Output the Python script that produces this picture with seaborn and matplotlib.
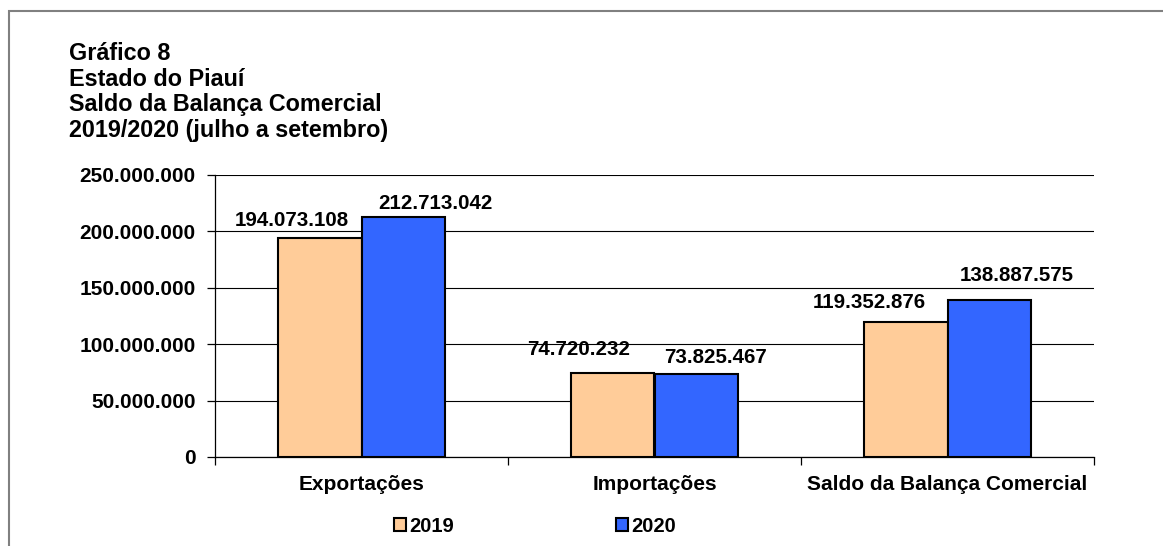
import pandas as pd
import numpy as np
import seaborn as sns
import matplotlib.pyplot as plt
from matplotlib.patches import Rectangle
from matplotlib.ticker import FuncFormatter, FixedLocator

# ------------------------------
# Data
# ------------------------------
categorias = ["Exportações", "Importações", "Saldo da Balança Comercial"]
anos = ["2019", "2020"]
valores_2019 = [194073108, 74720232, 119352876]
valores_2020 = [212713042, 73825467, 138887575]
titulo = ["Gráfico 8", "Estado do Piauí", "Saldo da Balança Comercial",
          "2019/2020 (julho a setembro)"]

cores = {"2019": "#FFCC99", "2020": "#3366FF"}

df = pd.DataFrame({
    "categoria": categorias * 2,
    "ano": [anos[0]] * 3 + [anos[1]] * 3,
    "valor": valores_2019 + valores_2020,
})


def fmt_br(v, pos=None):
    return f"{int(v):,}".replace(",", ".")


sns.set_style("white")
plt.rcParams["font.family"] = ["Liberation Sans", "DejaVu Sans"]
plt.rcParams["font.weight"] = "bold"
for k in ["text.color", "axes.labelcolor", "xtick.color", "ytick.color"]:
    plt.rcParams[k] = "black"

fig = plt.figure(figsize=(11.63, 5.46), dpi=100)
ax = fig.add_axes([215 / 1163, 1 - 457 / 546, (1094 - 215) / 1163, (457 - 175) / 546])

sns.barplot(data=df, x="categoria", y="valor", hue="ano", order=categorias,
            hue_order=anos, palette=cores, width=0.573, gap=0,
            edgecolor="black", linewidth=1.5, saturation=1, legend=False, ax=ax)

# axes styling
ax.set_ylim(0, 250000000)
ax.set_xlim(-0.5, 2.5)
ax.set_yticks(np.arange(0, 250000001, 50000000))
ax.yaxis.set_major_formatter(FuncFormatter(fmt_br))
ax.yaxis.grid(True, color="black", linewidth=0.8)
ax.set_axisbelow(True)
ax.set_xlabel("")
ax.set_ylabel("")
for s in ["top", "right"]:
    ax.spines[s].set_visible(False)
for s in ["left", "bottom"]:
    ax.spines[s].set_color("black")
    ax.spines[s].set_linewidth(0.9)
ax.tick_params(axis="y", left=True, length=6, width=0.9, color="black",
               labelsize=15, pad=8, labelcolor="black")
ax.tick_params(axis="x", which="major", length=0, labelsize=15, pad=13,
               labelcolor="black")
ax.xaxis.set_minor_locator(FixedLocator([-0.5, 0.5, 1.5, 2.5]))
ax.tick_params(axis="x", which="minor", bottom=True, length=6, width=0.9, color="black")
for lbl in ax.get_xticklabels() + ax.get_yticklabels():
    lbl.set_fontweight("bold")

# data labels (pixel offsets relative to bar top centre)
offsets = [[(-28, 12), (-34, 18), (-36, 14)],
           [(32, 8), (19, 11), (27, 19)]]
for cont, offs in zip(ax.containers, offsets):
    for bar, (dx, dy) in zip(cont, offs):
        x = bar.get_x() + bar.get_width() / 2
        y = bar.get_height()
        ax.annotate(fmt_br(y), (x, y), xytext=(dx, dy), textcoords="offset pixels",
                    ha="center", va="baseline", fontsize=14.8, fontweight="bold",
                    color="black")

# title
fig.text(69 / 1163, 1 - 42 / 546, "\n".join(titulo), ha="left", va="top",
         fontsize=16.8, fontweight="bold", linespacing=1.15, color="black")

# legend
handles = [Rectangle((0, 0), 1, 1, facecolor=cores[a], edgecolor="black", linewidth=1.5)
           for a in anos]
leg = fig.legend(handles, anos, loc="center", bbox_to_anchor=(535 / 1163, 1 - 526 / 546),
                 ncol=2, frameon=False, fontsize=14.5, handlelength=0.6, handleheight=0.6,
                 handletextpad=0.2, columnspacing=8.0)
for t in leg.get_texts():
    t.set_color("black")

# outer frame
fig.patches.append(Rectangle((8.5 / 1163, -0.1), 1.2, 1 - 11 / 546 + 0.1,
                             transform=fig.transFigure, fill=False,
                             edgecolor="#808080", linewidth=1.5))

fig.savefig("out.png", dpi=100)
